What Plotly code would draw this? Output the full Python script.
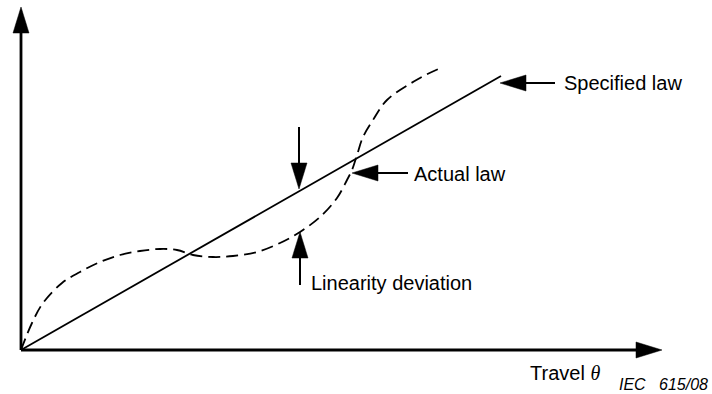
import numpy as np
import plotly.graph_objs as go

# travel (x) and output (y), origin at the axes corner, 1 unit ~ 1 px
specified_x = [0, 480]
specified_y = [0, 274]

actual_x = [0, 11, 22, 41, 59, 79, 99, 119, 139, 156, 172, 192, 212, 236,
            259, 279, 299, 316, 326, 331, 336, 342, 352, 366, 399, 422]
actual_y = [0, 27, 47, 67, 78, 88, 95, 99, 101, 100, 95, 93, 94, 98,
            107, 118, 133, 152, 170, 180, 195, 213, 230, 250, 272, 283]

x_axis_end = 641
y_axis_end = 343

labels = ["Specified law", "Actual law", "Linearity deviation"]

FONT = "Arial, 'Liberation Sans', sans-serif"


def add_arrow(fig, tip, tail, head_len=26, half=8, width=2.5):
    tip = np.array(tip, dtype=float)
    tail = np.array(tail, dtype=float)
    d = tip - tail
    d /= np.linalg.norm(d)
    base = tip - d * head_len
    p = np.array([-d[1], d[0]])
    a = base + p * half
    b = base - p * half
    fig.add_shape(type="line", x0=tail[0], y0=tail[1], x1=base[0], y1=base[1],
                  line=dict(color="black", width=width))
    fig.add_shape(type="path",
                  path=f"M{tip[0]},{tip[1]} L{a[0]},{a[1]} L{b[0]},{b[1]} Z",
                  fillcolor="black", line=dict(color="black", width=0.5))


fig = go.Figure()

fig.add_trace(go.Scatter(
    x=specified_x, y=specified_y, mode="lines",
    line=dict(color="black", width=1.8),
))
fig.add_trace(go.Scatter(
    x=actual_x, y=actual_y, mode="lines",
    line=dict(color="black", width=1.8, dash="12px,6px", shape="spline", smoothing=1.0),
))

# axes
add_arrow(fig, (x_axis_end, 0), (0, 0), width=2.8)
add_arrow(fig, (0, y_axis_end), (0, 0), width=2.8)

# pointers
add_arrow(fig, (479, 267), (534, 267), width=2)
add_arrow(fig, (331, 177), (387, 177), width=2)
add_arrow(fig, (278, 161), (278, 223), width=2)
add_arrow(fig, (279, 118), (279, 65), width=2)

texts = [
    (541, 267, labels[0], 20, "left"),
    (391, 176, labels[1], 20, "left"),
    (288, 67, labels[2], 20, "left"),
    (507, -23, "Travel <span style='font-family:Liberation Serif'><i>θ</i></span>", 20, "left"),
    (689, -34, "<i>IEC&nbsp;&nbsp;&nbsp;615/08</i>", 16, "right"),
]
for x, y, t, size, anchor in texts:
    fig.add_annotation(x=x, y=y, text=t, showarrow=False, xanchor=anchor,
                       yanchor="middle", font=dict(family=FONT, size=size, color="black"))

fig.update_layout(
    width=712,
    height=394,
    margin=dict(l=0, r=0, t=0, b=0),
    showlegend=False,
    hovermode=False,
    plot_bgcolor="white",
    paper_bgcolor="white",
    xaxis=dict(range=[-21, 691], visible=False, fixedrange=True),
    yaxis=dict(range=[-44, 350], visible=False, fixedrange=True),
)

fig.write_html(
    "out.html",
    config={"displayModeBar": False},
    post_script="document.body.style.margin='0';document.body.style.overflow='hidden';",
)
